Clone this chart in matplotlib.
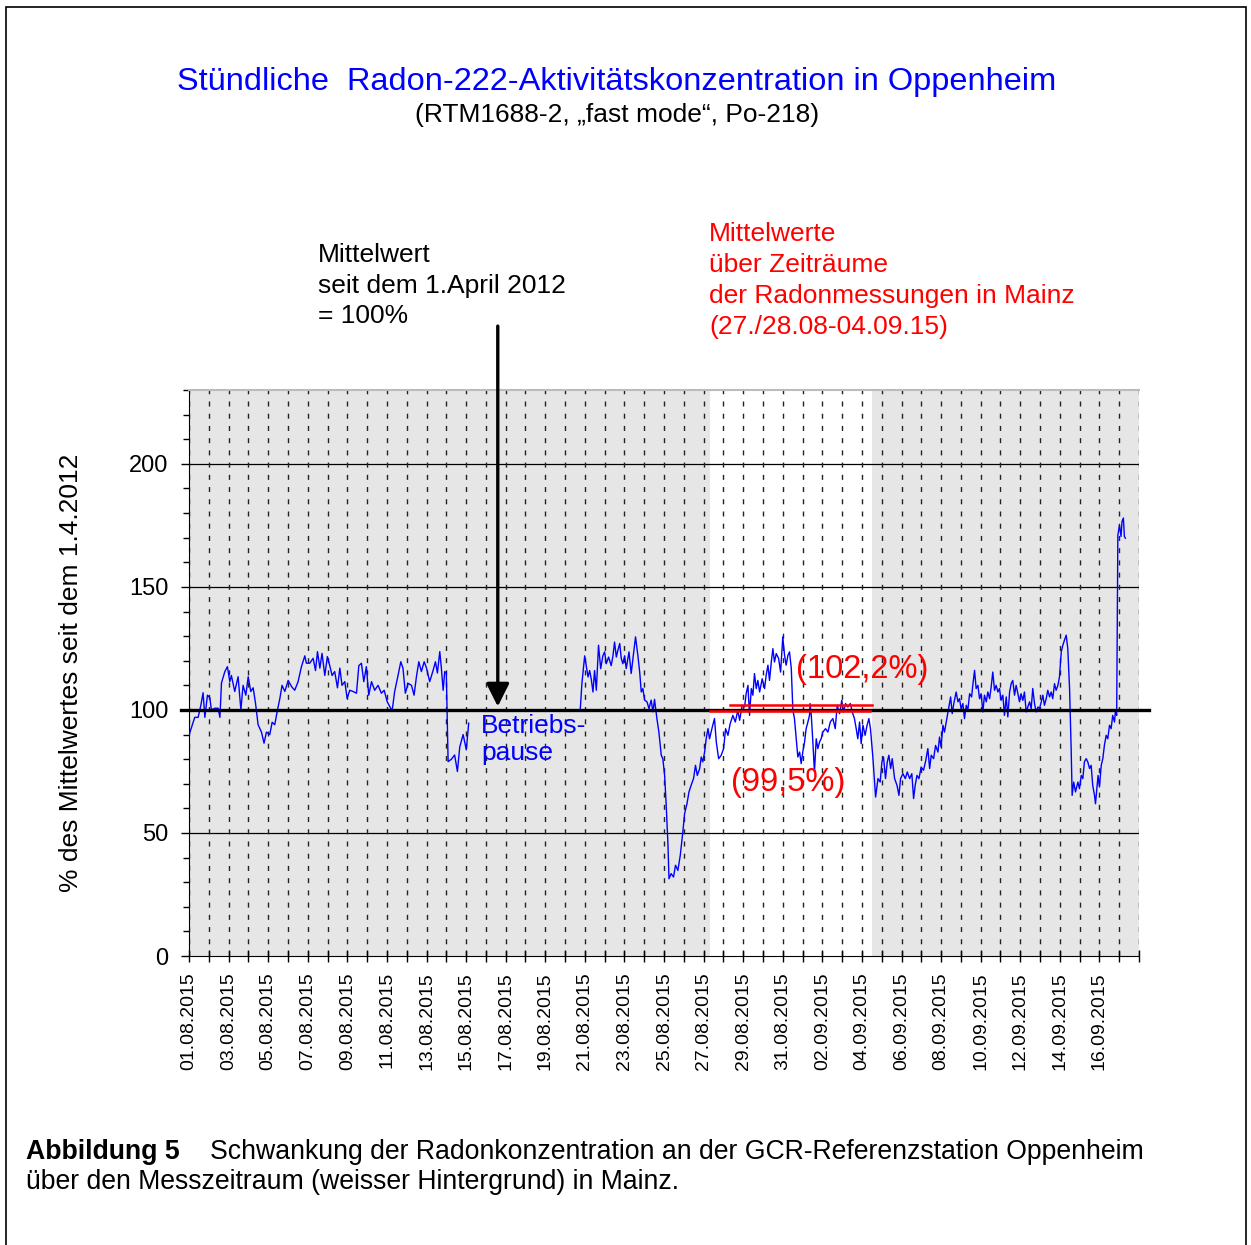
import numpy as np
import pandas as pd
import matplotlib
matplotlib.use('Agg')
import matplotlib.pyplot as plt
import matplotlib.dates as mdates
from matplotlib.ticker import MultipleLocator
from matplotlib.patches import Rectangle

plt.rcParams['font.family'] = ['Liberation Sans', 'DejaVu Sans']

start = pd.Timestamp('2015-08-01')

# Messwerte vor der Betriebspause (Tage seit 01.08.2015, % des Mittelwertes)
days_a = [0.0, 0.13, 0.29, 0.46, 0.60, 0.71, 0.80, 0.93, 1.05, 1.13,
          1.30, 1.47, 1.56, 1.64, 1.81, 1.94, 2.06, 2.14, 2.31, 2.48,
          2.62, 2.73, 2.87, 2.99, 3.12, 3.24, 3.36, 3.49, 3.66, 3.79,
          3.91, 4.08, 4.20, 4.33, 4.47, 4.59, 4.70, 4.84, 5.01, 5.18,
          5.34, 5.51, 5.68, 5.85, 5.93, 6.10, 6.27, 6.39, 6.49, 6.61,
          6.72, 6.86, 6.99, 7.11, 7.23, 7.36, 7.50, 7.62, 7.73, 7.87,
          7.99, 8.12, 8.29, 8.46, 8.58, 8.71, 8.83, 8.96, 9.08, 9.22,
          9.38, 9.55, 9.72, 9.86, 10.01, 10.14, 10.26, 10.39, 10.56, 10.70,
          10.81, 10.93, 11.07, 11.24, 11.37, 11.49, 11.61, 11.74, 11.88, 12.00,
          12.16, 12.33, 12.45, 12.55, 12.67, 12.75, 12.84, 12.92, 13.00, 13.09,
          13.26, 13.42, 13.56, 13.68, 13.85, 14.01, 14.13]
vals_a = [89.8, 93, 97, 97, 102, 107, 97, 106, 105, 100,
          100.7, 100.7, 97, 111, 115.6, 117.6, 111.5, 114, 107.5, 113.5,
          100, 110, 106, 113.5, 107.5, 109, 102.7, 94, 91, 86.5,
          91, 90, 95, 94, 100, 104.7, 110, 107.5, 112, 109.5,
          108, 111.5, 117.6, 122, 119, 119, 121, 116, 123.7, 117,
          123, 114, 121.7, 118, 114, 115.6, 109, 117, 110, 111.5,
          104.7, 108, 107.5, 106.8, 118, 119, 111.5, 117.6, 106, 111.5,
          108, 110, 106.8, 108, 103.4, 101.4, 99.6, 107.5, 114, 119.6,
          117, 106.8, 110.8, 110, 106, 113.5, 119.6, 115.6, 119.6, 117,
          111.5, 116, 119.6, 115, 123.7, 117, 108, 115.6, 115, 79,
          80, 81.7, 75, 85, 90, 83.8, 94.6]

# Messwerte nach der Betriebspause
days_b = [19.77, 19.85, 19.99, 20.07, 20.16, 20.24, 20.32, 20.41, 20.49, 20.58,
          20.69, 20.80, 20.91, 21.00, 21.08, 21.20, 21.33, 21.42, 21.50, 21.59,
          21.67, 21.76, 21.84, 21.92, 22.01, 22.09, 22.23, 22.34, 22.43, 22.56,
          22.68, 22.77, 22.85, 22.93, 23.02, 23.14, 23.24, 23.35, 23.44, 23.52,
          23.64, 23.74, 23.86, 23.94, 24.03, 24.11, 24.20, 24.25, 24.36, 24.48,
          24.58, 24.70, 24.82, 24.95, 25.04, 25.16, 25.26, 25.37, 25.49, 25.59,
          25.68, 25.80, 25.88, 25.96, 26.05, 26.13, 26.22, 26.30, 26.44, 26.55,
          26.64, 26.76, 26.89, 27.01, 27.11, 27.23, 27.34, 27.48, 27.60, 27.73,
          27.82, 27.95, 28.07, 28.15, 28.24, 28.32, 28.41, 28.49, 28.57, 28.66,
          28.74, 28.83, 28.96, 29.08, 29.16, 29.25, 29.33, 29.42, 29.50, 29.58,
          29.67, 29.79, 29.89, 30.00, 30.09, 30.17, 30.26, 30.34, 30.43, 30.51,
          30.59, 30.68, 30.76, 30.85, 30.93, 31.01, 31.10, 31.18, 31.27, 31.35,
          31.38, 31.44, 31.52, 31.60, 31.69, 31.77, 31.86, 31.94, 32.02, 32.16,
          32.28, 32.40, 32.53, 32.65, 32.75, 32.87, 32.98, 33.07, 33.17, 33.29,
          33.41, 33.51, 33.62, 33.71, 33.79, 33.88, 33.96, 34.05, 34.16, 34.26,
          34.35, 34.43,
          34.55, 34.69, 34.81, 34.92, 35.01, 35.09, 35.19, 35.28, 35.36, 35.45,
          35.53, 35.65, 35.77, 35.87, 35.95, 36.07, 36.19, 36.29, 36.41, 36.52,
          36.61, 36.69, 36.78, 36.88, 36.99, 37.11, 37.21, 37.33, 37.42, 37.50,
          37.62, 37.72, 37.84, 37.92, 38.00, 38.09, 38.17, 38.29, 38.39, 38.48,
          38.56, 38.64, 38.76, 38.85, 38.93, 39.01, 39.10, 39.18, 39.27, 39.35,
          39.44, 39.54, 39.60, 39.69, 39.77, 39.86, 39.94, 40.02, 40.11, 40.19,
          40.28, 40.36, 40.45, 40.53, 40.61, 40.70, 40.78, 40.87, 40.95, 41.03,
          41.12, 41.20, 41.29, 41.37, 41.46, 41.54, 41.62, 41.71, 41.79, 41.88,
          41.96, 42.04, 42.13, 42.21, 42.30, 42.38, 42.47, 42.55, 42.63, 42.72,
          42.80, 42.89, 42.97, 43.06, 43.14, 43.22, 43.31, 43.39, 43.48, 43.56,
          43.64, 43.73, 43.81, 43.90, 43.98, 44.07, 44.15, 44.23, 44.32, 44.40,
          44.49, 44.57, 44.62, 44.70, 44.79, 44.91, 44.99, 45.08, 45.16, 45.24,
          45.33, 45.41, 45.50, 45.58, 45.66, 45.75, 45.80, 45.87, 45.93, 46.00,
          46.09, 46.17, 46.25, 46.34, 46.42, 46.51, 46.59, 46.67, 46.76, 46.81,
          46.87, 46.93, 47.01, 47.09, 47.14, 47.21, 47.26, 47.31]
vals_b = [100.5, 110.7, 122, 118, 113.4, 116, 112.7, 107.3, 116, 108,
          126.3, 116.8, 122, 123.6, 118.8, 121.5, 118, 122, 127.6, 121.5,
          124.3, 127, 120.9, 118.8, 122, 116.8, 123.6, 114.8, 120.9, 129.7,
          122, 115.4, 107.3, 108.7, 104, 103.3, 100.5, 104, 99.2, 104.3,
          96.5, 91, 81.6, 80.2, 73.4, 61.2, 45, 31.4, 33.5, 32.1,
          36.9, 34.8, 40.9, 50.4, 57.9, 61.9, 66.7, 69.4, 72.1, 77.5,
          73.4, 76.2, 80.9, 78.9, 82.9, 88.3, 92.4, 88.3, 93.1, 96.5,
          87, 80.2, 81.6, 84.3, 92.4, 89.7, 94.4, 97.8, 95.1, 99.9,
          95.8, 101.9, 101.2, 106.6, 110, 97.8, 108.7, 106, 114.8, 108.7,
          112, 107.3, 112.7, 108.7, 114.1, 118.2, 112, 119.5, 124.9, 119.5,
          122.9, 120.9, 115.4, 129.7, 122.2, 118.2, 122.2, 123.6, 116.8, 99.9,
          96.5, 88.3, 80.9, 82.9, 78.2, 82.9, 87, 92.4, 95.1, 97.8,
          102.6, 97.8, 87, 74.8, 88.3, 84.3, 87, 88.3, 91, 92.4,
          91, 95.1, 96.5, 92.4, 101.9, 98.5, 103.9, 99.2, 102.6, 101.2,
          102.6, 99.2, 96.5, 92.4, 88.3, 95.1, 86.3, 93.8, 89.7, 93.8,
          96.5, 92.4,
          80.9, 64.6, 72.1, 70.7, 78.9, 80.9, 72.1, 78.9, 81.6, 76.2,
          80.2, 72.1, 69.4, 65.3, 72.1, 74.1, 72.1, 74.8, 72.1, 74.1,
          64, 69.4, 73.4, 72.1, 76.8, 75.5, 78.9, 84.3, 76.2, 81.6,
          80.2, 85.6, 82.9, 89, 85, 93.8, 91, 96.5, 101.2, 105.3,
          98.5, 102.6, 107.3, 103.3, 104.6, 100.5, 102.6, 96.5, 101.9, 99.9,
          106.6, 105.3, 110, 116.1, 108.7, 110, 104.6, 106.6, 99.2, 106,
          103.3, 107.3, 104.6, 109.4, 115.4, 108, 110, 107.3, 108.7, 103.9,
          106, 97.8, 105.3, 97.2, 107.3, 110.7, 112, 106, 110, 106.6,
          103.3, 106.6, 103.9, 107.3, 99.2, 101.2, 103.3, 100.5, 108.7, 102.6,
          99.2, 101.2, 100.5, 103.3, 106, 101.9, 104.6, 108, 105.3, 107.3,
          104.6, 110.7, 108, 110, 113.4, 123.6, 126.3, 128.3, 130.4, 124.9,
          108.7, 84.3, 65.3, 70.7, 66.7, 70.7, 68, 73.4, 72.1, 78.9,
          80.2, 78.9, 76.2, 77.5, 69.4, 65.3, 61.9, 68, 73.4, 68.7,
          77.5, 80.2, 85.6, 89.7, 88.3, 93.8, 92.4, 97.8, 95.1, 99.9,
          97.8, 171, 175, 170.5, 176.6, 178, 170.5, 169.8]

# Mittelwerte ueber die Mainzer Messzeitraeume
mean_low = 99.5
mean_low_period = ['2015-08-27 08:00', '2015-09-04 10:00']
mean_high = 102.2
mean_high_period = ['2015-08-28 08:00', '2015-09-04 12:00']
white_period = ['2015-08-27 08:00', '2015-09-04 12:30']

tick_labels = ['01.08.2015', '03.08.2015', '05.08.2015', '07.08.2015', '09.08.2015',
               '11.08.2015', '13.08.2015', '15.08.2015', '17.08.2015', '19.08.2015',
               '21.08.2015', '23.08.2015', '25.08.2015', '27.08.2015', '29.08.2015',
               '31.08.2015', '02.09.2015', '04.09.2015', '06.09.2015', '08.09.2015',
               '10.09.2015', '12.09.2015', '14.09.2015', '16.09.2015']

# Zeitreihe mit Luecke (Betriebspause)
t = pd.to_datetime(list(start + pd.to_timedelta(days_a, unit='D')) + [pd.NaT]
                   + list(start + pd.to_timedelta(days_b, unit='D')))
y = np.array(vals_a + [np.nan] + vals_b)

fig = plt.figure(figsize=(12.51, 12.45), dpi=100)
ax = fig.add_axes([0.1511, 0.2321, 0.7594, 0.4546])

x0 = pd.Timestamp('2015-08-01')
x1 = pd.Timestamp('2015-09-18')
ax.set_xlim(x0, x1)
ax.set_ylim(0, 230)

gray = '#e6e6e6'
ax.axvspan(x0, pd.Timestamp(white_period[0]), color=gray, lw=0, zorder=0)
ax.axvspan(pd.Timestamp(white_period[1]), x1, color=gray, lw=0, zorder=0)

# Gitter
ax.set_xticks(pd.to_datetime(tick_labels, format='%d.%m.%Y'))
ax.set_xticklabels(tick_labels, rotation=90, fontsize=14)
ax.xaxis.set_minor_locator(mdates.DayLocator())
ax.grid(which='both', axis='x', color='#222222', lw=1.0, ls=(0, (3.6, 5.2)))
ax.set_yticks([0, 50, 100, 150, 200])
ax.yaxis.set_minor_locator(MultipleLocator(10))
for yy in [50, 150, 200]:
    ax.axhline(yy, color='black', lw=0.9, zorder=1)

ax.tick_params(axis='x', which='both', direction='inout', length=9, width=1, pad=7)
ax.tick_params(axis='y', which='major', direction='out', length=6, width=1, labelsize=17, pad=9)
ax.tick_params(axis='y', which='minor', direction='out', length=4, width=1)

ax.spines['right'].set_visible(False)
ax.spines['top'].set_color('#bbbbbb')
ax.spines['top'].set_linewidth(1.5)

# Messkurve
ax.plot(t, y, color='#0000ff', lw=1.0, zorder=3)

# Referenzlinie 100 %
ax.axhline(100, xmin=-0.008, xmax=1.011, color='black', lw=2.4, clip_on=False, zorder=4)

# Mittelwerte
ax.plot(pd.to_datetime(mean_high_period), [mean_high, mean_high], color='red', lw=1.8, zorder=5)
ax.plot(pd.to_datetime(mean_low_period), [mean_low, mean_low], color='red', lw=1.8, zorder=5)

ax.text(start + pd.Timedelta(days=30.66), 116.5, '(102,2%)', color='red', fontsize=23.5,
        va='center', ha='left', zorder=6)
ax.text(start + pd.Timedelta(days=27.37), 70.7, '(99,5%)', color='red', fontsize=23.5,
        va='center', ha='left', zorder=6)
ax.text(start + pd.Timedelta(days=14.75), 88.0, 'Betriebs-\npause', color='#0000ff', fontsize=19,
        va='center', ha='left', linespacing=1.2, zorder=6)

# Pfeil
xa = start + pd.Timedelta(days=15.6)
ax.annotate('', xy=(xa, 101.4), xytext=(xa, 256), annotation_clip=False,
            arrowprops=dict(arrowstyle='-|>,head_length=0.7,head_width=0.35', mutation_scale=20,
                            lw=2.4, color='black', shrinkA=0, shrinkB=0), zorder=6)

ax.set_ylabel('% des Mittelwertes seit dem 1.4.2012', fontsize=19)
ax.yaxis.set_label_coords(-0.112, 0.5)

# Titel und Texte
fig.text(0.4932, 0.9340, 'Stündliche  Radon-222-Aktivitätskonzentration in Oppenheim',
         color='#0000ff', fontsize=23.4, ha='center', va='center')
fig.text(0.4932, 0.9075, '(RTM1688-2, \u201efast mode\u201c, Po-218)', fontsize=19,
         ha='center', va='center')
fig.text(0.2542, 0.8050, 'Mittelwert\nseit dem 1.April 2012\n= 100%', fontsize=19,
         ha='left', va='top', linespacing=1.36)
fig.text(0.5668, 0.8217, 'Mittelwerte\nüber Zeiträume\nder Radonmessungen in Mainz\n(27./28.08-04.09.15)',
         color='red', fontsize=19, ha='left', va='top', linespacing=1.36)

fig.text(0.0208, 0.0747, 'Abbildung 5', fontsize=19.2, fontweight='bold', ha='left', va='center')
fig.text(0.1679, 0.0747, 'Schwankung der Radonkonzentration an der GCR-Referenzstation Oppenheim',
         fontsize=19.2, ha='left', va='center')
fig.text(0.0208, 0.0506, 'über den Messzeitraum (weisser Hintergrund) in Mainz.',
         fontsize=19.2, ha='left', va='center')

# Rahmen
fig.add_artist(Rectangle((0.005, -0.01), 0.991, 1.004, transform=fig.transFigure,
                         fill=False, edgecolor='black', lw=1.2))

fig.savefig('out.png', dpi=100)
